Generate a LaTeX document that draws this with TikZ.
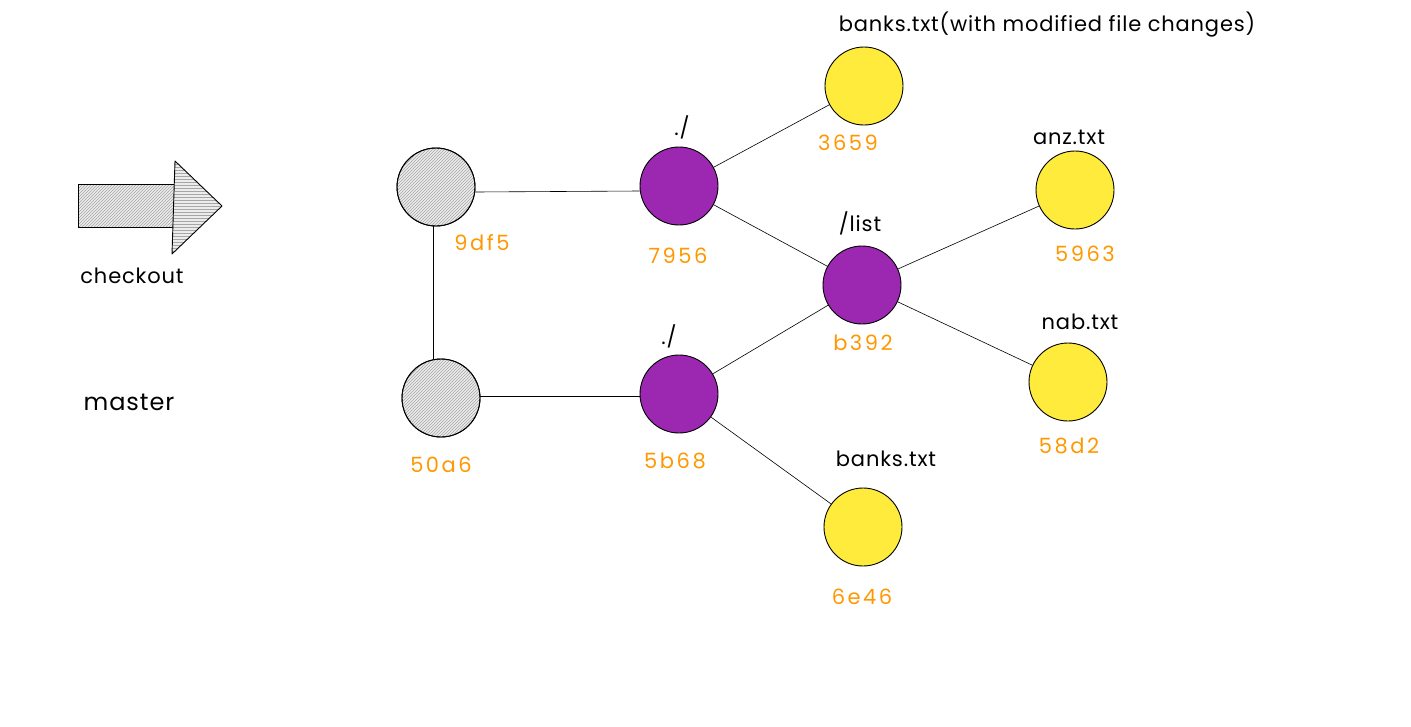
\documentclass[tikz,border=0pt]{standalone}
\usepackage{fontspec}
\setmainfont[LetterSpace=4]{Poppins}
\newfontfamily\hashfont[LetterSpace=12]{Poppins}
\usetikzlibrary{patterns}
\definecolor{cpurple}{HTML}{9C27B0}
\definecolor{cyellow}{HTML}{FFEB3B}
\definecolor{corange}{HTML}{FF9800}
\tikzset{
  commit/.style={circle,draw=black,line width=0.9pt,minimum size=78pt,inner sep=0pt},
  treeobj/.style={commit,fill=cpurple},
  blobobj/.style={commit,fill=cyellow},
  hashlbl/.style={text=corange,font=\hashfont\fontsize{21}{25}\selectfont},
  namelbl/.style={text=black,font=\fontsize{21}{25}\selectfont},
  edge/.style={draw=black,line width=0.6pt},
  hatchfill/.style={pattern=north east lines,pattern color=gray!70}
}
\begin{document}
\begin{tikzpicture}[x=1pt,y=-1pt]
\useasboundingbox (0,0) rectangle (1411,726);
% checkout arrow
\fill[gray!15] (78,184) rectangle (175,227);
\fill[hatchfill] (78,184) rectangle (175,227);
\draw[line width=0.9pt] (78,184) rectangle (175,227);
\fill[gray!15] (175,161) -- (222,206) -- (172,254) -- cycle;
\fill[pattern=horizontal lines,pattern color=gray!70] (175,161) -- (222,206) -- (172,254) -- cycle;
\draw[line width=0.9pt,line join=round] (175,161) -- (222,206) -- (172,254) -- cycle;
\node[namelbl] (checkout) at (132,276) {checkout};
\node[namelbl,font=\fontsize{24}{28}\selectfont] (master) at (129,402) {master};
% commits
\node[commit,fill=gray!15] (c1) at (436,187) {};
\fill[hatchfill] (436,187) circle (38.5);
\draw[line width=0.9pt] (436,187) circle (39);
\node[commit,fill=gray!15] (c2) at (441,398) {};
\fill[hatchfill] (441,398) circle (38.5);
\draw[line width=0.9pt] (441,398) circle (39);
\node[hashlbl] (l9df5) at (482,243) {9df5};
\node[hashlbl] (l50a6) at (441,465) {50a6};
% trees
\node[treeobj] (t1) at (679,186) {};
\node[treeobj] (t2) at (679,394) {};
\node[treeobj] (t3) at (862,285) {};
\node[hashlbl] (l7956) at (678,256) {7956};
\node[namelbl] (n1) at (682,127) {./};
\node[hashlbl] (l5b68) at (675,461) {5b68};
\node[namelbl] (n2) at (669,336) {./};
\node[hashlbl] (lb392) at (863,343) {b392};
\node[namelbl] (n3) at (860,223) {/list};
% blobs
\node[blobobj] (b1) at (864,86) {};
\node[blobobj] (b2) at (1075,190) {};
\node[blobobj] (b3) at (1068,382) {};
\node[blobobj] (b4) at (863,527) {};
\node[hashlbl] (l3659) at (848,143) {3659};
\node[namelbl] (n4) at (1047,25) {banks.txt(with modified file changes)};
\node[namelbl] (n5) at (1069,137) {anz.txt};
\node[hashlbl] (l5963) at (1085,254) {5963};
\node[namelbl] (n6) at (1080,322) {nab.txt};
\node[hashlbl] (l58d2) at (1069,446) {58d2};
\node[namelbl] (n7) at (886,459) {banks.txt};
\node[hashlbl] (l6e46) at (862,597) {6e46};
% edges
\draw[edge] ([yshift=-5pt]c1.east) -- ([yshift=-5pt]t1.west);
\draw[edge] ([xshift=-3pt]c1.south) -- ([xshift=-8pt]c2.north);
\draw[edge] ([yshift=2pt]c2.east) -- ([yshift=-2pt]t2.west);
\draw[edge] (t1) -- (b1);
\draw[edge] (t1) -- (t3);
\draw[edge] (t2) -- (t3);
\draw[edge] (t2) -- (b4);
\draw[edge] (t3) -- (b2);
\draw[edge] (t3) -- (b3);
\end{tikzpicture}
\end{document}
